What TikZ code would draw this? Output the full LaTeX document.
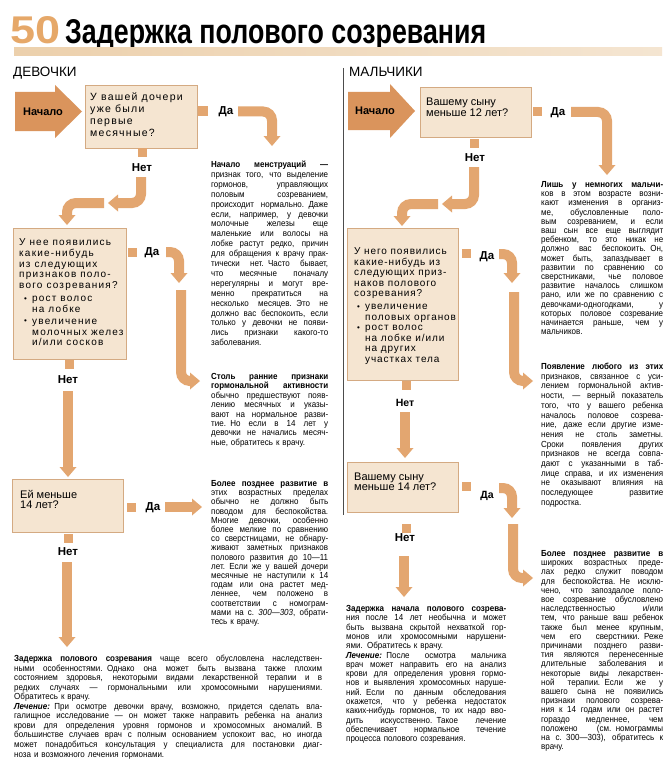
\documentclass[tikz,border=0pt]{standalone}
\usepackage{fontspec}
\setmainfont{Liberation Sans}
\newfontfamily\boxfont[LetterSpace=12]{Liberation Sans}
\newfontfamily\boxfontb[LetterSpace=9]{Liberation Sans}
\newfontfamily\bodyf[FakeStretch=0.91]{Liberation Sans}
\usetikzlibrary{calc}
\setlength{\parindent}{0pt}
\definecolor{arrowc}{RGB}{227,166,112}
\definecolor{nachc}{RGB}{218,148,92}
\definecolor{boxfill}{RGB}{245,229,209}
\definecolor{boxline}{RGB}{212,170,130}
\definecolor{titlec}{RGB}{230,168,105}
\definecolor{stripc}{RGB}{236,208,172}
\newlength\cw
\newcommand\J[1]{\leavevmode\hbox to \cw{\spaceskip=0.28em plus 3em minus 0.12em\relax #1}}
\newcommand\bul{\makebox[13pt][l]{\hspace{5pt}\raisebox{0.6pt}{\scalebox{0.8}{•}}}}
\newcommand\bulb{\makebox[11pt][l]{\hspace{3pt}\raisebox{0.6pt}{\scalebox{0.8}{•}}}}
\newcommand\headD[1]{\fill[arrowc] ($(#1)+(-8.5,-10)$) -- ($(#1)+(8.5,-10)$) -- (#1) -- cycle;}
\newcommand\headL[1]{\fill[arrowc] ($(#1)+(10,-8.5)$) -- ($(#1)+(10,8.5)$) -- (#1) -- cycle;}
\newcommand\headR[1]{\fill[arrowc] ($(#1)+(-10,-8.5)$) -- ($(#1)+(-10,8.5)$) -- (#1) -- cycle;}
\begin{document}
\begin{tikzpicture}[x=1pt,y=-1pt,
  shaft/.style={draw=arrowc, line width=10pt, rounded corners=9pt},
  stub/.style={fill=arrowc, inner sep=0pt, minimum width=9pt, minimum height=9pt},
  lbl/.style={font=\bfseries\fontsize{11.5}{12}\selectfont, inner sep=0pt},
  qbox/.style={draw=boxline, fill=boxfill, line width=0.8pt, inner sep=0pt, anchor=north west},
  qtxt/.style={anchor=north west, inner sep=0pt, align=left, font=\boxfont\fontsize{10}{10.6}\selectfont},
  qtxtb/.style={anchor=north west, inner sep=0pt, align=left, font=\fontsize{11}{10.8}\selectfont},
  ptxt/.style={anchor=north west, inner sep=0pt},
  hdr/.style={anchor=base west, inner sep=0pt, font=\fontsize{13.5}{14}\selectfont},
  start/.style={inner sep=0pt, font=\bfseries\fontsize{11}{12}\selectfont},
  sep/.style={draw=black!70, line width=0.6pt}]
\useasboundingbox (0,0) rectangle (670,773);
\fill[white] (0,0) rectangle (670,773);

% ---------- title ----------
\node[anchor=base west, inner sep=0pt, text=titlec] (num) at (10,44) {\resizebox{50pt}{27pt}{\bfseries 50}};
\node[anchor=base west, inner sep=0pt] (title) at (65,44) {\resizebox{421pt}{24pt}{\bfseries Задержка полового созревания}};
\shade[left color=stripc, right color=stripc!55!white] (14,48) rectangle (662,56);

\node[hdr] (girls) at (13,77) {ДЕВОЧКИ};
\node[hdr] (boys) at (349,77) {МАЛЬЧИКИ};
\draw[sep] (343,68) -- (343,515);

% ---------- GIRLS ----------
\fill[nachc] (15,92) -- (55,92) -- (55,85) -- (82,111.5) -- (55,138) -- (55,131) -- (15,131) -- cycle;
\node[start] (g0) at (43,112) {Начало};

\node[qbox, minimum width=112pt, minimum height=63pt] (qg1) at (85,85) {};
\node[qtxt, font=\boxfont\fontsize{10.5}{11.7}\selectfont] (qg1t) at (90,91.7) {\rule{0pt}{9pt}У вашей дочери\\уже были\\первые\\месячные?};

\node[stub, minimum width=10pt, minimum height=10pt] (g1y) at (203,111) {};
\node[lbl] (g1yl) at (226,112) {Да};
\coordinate (g1ya) at (238,111.5); \coordinate (g1yt) at (272,146);
\draw[shaft] (g1ya) -| ($(g1yt)+(0,-9)$); \headD{g1yt}

\node[stub] (g1n) at (142.5,152.5) {};
\node[lbl] (g1nl) at (142,168) {Нет};
\coordinate (g1na) at (141,177); \coordinate (g1nt) at (108,203);
\draw[shaft] (g1na) |- ($(g1nt)+(9,0)$); \headL{g1nt}
\coordinate (g1nb) at (104,203); \coordinate (g1nu) at (67,225);
\draw[shaft] (g1nb) -| ($(g1nu)+(0,-9)$); \headD{g1nu}

\node[qbox, minimum width=113pt, minimum height=131pt] (qg2) at (13,228) {};
\node[qtxt] (qg2t) at (19,236.6) {\rule{0pt}{9pt}У нее появились\\какие-нибудь\\из следующих\\признаков поло-\\вого созревания?\\[3pt]\bul рост волос\\\hspace*{13pt}на лобке\\[1.5pt]\bul увеличение\\\hspace*{13pt}молочных желез\\\hspace*{13pt}и/или сосков};

\node[stub] (g2y) at (132.5,252) {};
\node[lbl] (g2yl) at (152,253) {Да};
\coordinate (g2ya) at (166,252); \coordinate (g2yt) at (179,283);
\draw[shaft] (g2ya) -| ($(g2yt)+(0,-9)$); \headD{g2yt}
\coordinate (g2yb) at (181,290); \coordinate (g2yr) at (200,381);
\draw[shaft] (g2yb) |- ($(g2yr)+(-9,0)$); \headR{g2yr}

\node[stub] (g2n) at (69,364) {};
\node[lbl] (g2nl) at (68,380) {Нет};
\coordinate (g2na) at (68,391); \coordinate (g2nt) at (68,477);
\draw[shaft] (g2na) -- ($(g2nt)+(0,-9)$); \headD{g2nt}

\node[qbox, minimum width=111pt, minimum height=53pt] (qg3) at (12,479) {};
\node[qtxtb] (qg3t) at (20,488.4) {\rule{0pt}{9.5pt}Ей меньше\\14 лет?};

\node[stub] (g3y) at (131.5,507.5) {};
\node[lbl] (g3yl) at (153,508) {Да};
\coordinate (g3ya) at (165,507); \coordinate (g3yt) at (202,507);
\draw[shaft] (g3ya) -- ($(g3yt)+(-9,0)$); \headR{g3yt}

\node[stub] (g3n) at (68.5,538.5) {};
\node[lbl] (g3nl) at (68,552) {Нет};
\coordinate (g3na) at (67,562); \coordinate (g3nt) at (67,647);
\draw[shaft] (g3na) -- ($(g3nt)+(0,-9)$); \headD{g3nt}

% girls texts
\node[ptxt, text width=117pt, font=\bodyf\fontsize{8.8}{9.9}\selectfont] (gp1) at (211,160.3) {\setlength\cw{117pt}\rule{0pt}{7pt}%
\J{\textbf{Начало менструаций —}}\\
\J{признак того, что выделение}\\
\J{гормонов, управляющих}\\
\J{половым созреванием,}\\
\J{происходит нормально. Даже}\\
\J{если, например, у девочки}\\
\J{молочные железы еще}\\
\J{маленькие или волосы на}\\
\J{лобке растут редко, причин}\\
\J{для обращения к врачу прак-}\\
\J{тически нет. Часто бывает,}\\
\J{что месячные поначалу}\\
\J{нерегулярны и могут вре-}\\
\J{менно прекратиться на}\\
\J{несколько месяцев. Это не}\\
\J{должно вас беспокоить, если}\\
\J{только у девочки не появи-}\\
\J{лись признаки какого-то}\\
заболевания.};

\node[ptxt, text width=117pt, font=\bodyf\fontsize{8.8}{9.4}\selectfont] (gp2) at (211,372.3) {\setlength\cw{117pt}\rule{0pt}{7pt}%
\J{\textbf{Столь ранние признаки}}\\
\J{\textbf{гормональной активности}}\\
\J{обычно предшествуют появ-}\\
\J{лению месячных и указы-}\\
\J{вают на нормальное разви-}\\
\J{тие. Но если в 14 лет у}\\
\J{девочки не начались месяч-}\\
ные, обратитесь к врачу.};

\node[ptxt, text width=117pt, font=\bodyf\fontsize{8.8}{9.2}\selectfont] (gp3) at (211,479.3) {\setlength\cw{117pt}\rule{0pt}{7pt}%
\J{\textbf{Более позднее развитие в}}\\
\J{этих возрастных пределах}\\
\J{обычно не должно быть}\\
\J{поводом для беспокойства.}\\
\J{Многие девочки, особенно}\\
\J{более мелкие по сравнению}\\
\J{со сверстницами, не обнару-}\\
\J{живают заметных признаков}\\
\J{полового развития до 10—11}\\
\J{лет. Если же у вашей дочери}\\
\J{месячные не наступили к 14}\\
\J{годам или она растет мед-}\\
\J{леннее, чем положено в}\\
\J{соответствии с номограм-}\\
\J{мами на с. \textit{300—303}, обрати-}\\
тесь к врачу.};

\node[ptxt, text width=308pt, font=\bodyf\fontsize{8.8}{9.55}\selectfont] (gp4) at (14,654.3) {\setlength\cw{308pt}\rule{0pt}{7pt}%
\J{\textbf{Задержка полового созревания} чаще всего обусловлена наследствен-}\\
\J{ными особенностями. Однако она может быть вызвана также плохим}\\
\J{состоянием здоровья, некоторыми видами лекарственной терапии и в}\\
\J{редких случаях — гормональными или хромосомными нарушениями.}\\
Обратитесь к врачу.\\
\J{\textbf{\textit{Лечение:}} При осмотре девочки врачу, возможно, придется сделать вла-}\\
\J{галищное исследование — он может также направить ребенка на анализ}\\
\J{крови для определения уровня гормонов и хромосомных аномалий. В}\\
\J{большинстве случаев врач с полным основанием успокоит вас, но иногда}\\
\J{может понадобиться консультация у специалиста для постановки диаг-}\\
ноза и возможного лечения гормонами.};

% ---------- BOYS ----------
\fill[nachc] (348,92) -- (390,92) -- (390,84) -- (415,111) -- (390,138) -- (390,130) -- (348,130) -- cycle;
\node[start] (b0) at (375,111) {Начало};

\node[qbox, minimum width=111pt, minimum height=50pt] (qb1) at (420,87) {};
\node[qtxtb, font=\fontsize{11}{11}\selectfont] (qb1t) at (426,95.4) {\rule{0pt}{9.5pt}Вашему сыну\\меньше 12 лет?};

\node[stub] (b1y) at (537.5,112) {};
\node[lbl] (b1yl) at (558,113) {Да};
\coordinate (b1ya) at (571,112); \coordinate (b1yt) at (607,175);
\draw[shaft] (b1ya) -| ($(b1yt)+(0,-9)$); \headD{b1yt}

\node[stub] (b1n) at (474.5,143) {};
\node[lbl] (b1nl) at (475,158) {Нет};
\coordinate (b1na) at (474,167); \coordinate (b1nt) at (442,204);
\draw[shaft] (b1na) |- ($(b1nt)+(9,0)$); \headL{b1nt}
\coordinate (b1nb) at (438,204); \coordinate (b1nu) at (402,226);
\draw[shaft] (b1nb) -| ($(b1nu)+(0,-9)$); \headD{b1nu}

\node[qbox, minimum width=111pt, minimum height=152pt] (qb2) at (347,228) {};
\node[qtxt, font=\boxfontb\fontsize{10}{10.5}\selectfont] (qb2t) at (354,245.6) {\rule{0pt}{9pt}У него появились\\какие-нибудь из\\следующих приз-\\наков полового\\созревания?\\[2.5pt]\bulb увеличение\\\hspace*{11pt}половых органов\\\bulb рост волос\\\hspace*{11pt}на лобке и/или\\\hspace*{11pt}на других\\\hspace*{11pt}участках тела};

\node[stub] (b2y) at (466.5,253.5) {};
\node[lbl] (b2yl) at (487,257) {Да};
\coordinate (b2ya) at (499,254); \coordinate (b2yt) at (512,283);
\draw[shaft] (b2ya) -| ($(b2yt)+(0,-9)$); \headD{b2yt}
\coordinate (b2yb) at (514,292); \coordinate (b2yr) at (533,381);
\draw[shaft] (b2yb) |- ($(b2yr)+(-9,0)$); \headR{b2yr}

\node[stub] (b2n) at (406,385) {};
\node[lbl, font=\bfseries\fontsize{10.5}{11}\selectfont] (b2nl) at (405,403) {Нет};
\coordinate (b2na) at (405,412); \coordinate (b2nt) at (405,458);
\draw[shaft] (b2na) -- ($(b2nt)+(0,-9)$); \headD{b2nt}

\node[qbox, minimum width=111pt, minimum height=50pt] (qb3) at (347,462) {};
\node[qtxtb, font=\fontsize{11}{10.5}\selectfont] (qb3t) at (354,470.4) {\rule{0pt}{9.5pt}Вашему сыну\\меньше 14 лет?};

\node[stub] (b3y) at (466.5,486.5) {};
\node[lbl, font=\bfseries\fontsize{10.5}{11}\selectfont] (b3yl) at (487,496) {Да};
\coordinate (b3ya) at (499,488); \coordinate (b3yt) at (512,518);
\draw[shaft] (b3ya) -| ($(b3yt)+(0,-9)$); \headD{b3yt}
\coordinate (b3yb) at (513,524); \coordinate (b3yr) at (533,578);
\draw[shaft] (b3yb) |- ($(b3yr)+(-9,0)$); \headR{b3yr}

\node[stub] (b3n) at (406,528) {};
\node[lbl] (b3nl) at (405,538) {Нет};
\coordinate (b3na) at (404,556); \coordinate (b3nt) at (404,597);
\draw[shaft] (b3na) -- ($(b3nt)+(0,-9)$); \headD{b3nt}

% boys texts
\node[ptxt, text width=122pt, font=\bodyf\fontsize{8.8}{9.2}\selectfont] (bp1) at (541,180.3) {\setlength\cw{122pt}\rule{0pt}{7pt}%
\J{\textbf{Лишь у немногих мальчи-}}\\
\J{ков в этом возрасте возни-}\\
\J{кают изменения в организ-}\\
\J{ме, обусловленные поло-}\\
\J{вым созреванием, и если}\\
\J{ваш сын все еще выглядит}\\
\J{ребенком, то это никак не}\\
\J{должно вас беспокоить. Он,}\\
\J{может быть, запаздывает в}\\
\J{развитии по сравнению со}\\
\J{сверстниками, чье половое}\\
\J{развитие началось слишком}\\
\J{рано, или же по сравнению с}\\
\J{девочками-одногодками, у}\\
\J{которых половое созревание}\\
\J{начинается раньше, чем у}\\
мальчиков.};

\node[ptxt, text width=122pt, font=\bodyf\fontsize{8.8}{9.7}\selectfont] (bp2) at (541,362.3) {\setlength\cw{122pt}\rule{0pt}{7pt}%
\J{\textbf{Появление любого из этих}}\\
\J{признаков, связанное с уси-}\\
\J{лением гормональной актив-}\\
\J{ности, — верный показатель}\\
\J{того, что у вашего ребенка}\\
\J{началось половое созрева-}\\
\J{ние, даже если другие изме-}\\
\J{нения не столь заметны.}\\
\J{Сроки появления других}\\
\J{признаков не всегда совпа-}\\
\J{дают с указанными в таб-}\\
\J{лице справа, и их изменения}\\
\J{не оказывают влияния на}\\
\J{последующее развитие}\\
подростка.};

\node[ptxt, text width=160pt, font=\bodyf\fontsize{8.8}{9.3}\selectfont] (bp3) at (346,604.3) {\setlength\cw{160pt}\rule{0pt}{7pt}%
\J{\textbf{Задержка начала полового созрева-}}\\
\J{ния после 14 лет необычна и может}\\
\J{быть вызвана скрытой нехваткой гор-}\\
\J{монов или хромосомными нарушени-}\\
ями. Обратитесь к врачу.\\
\J{\textbf{\textit{Лечение:}} После осмотра мальчика}\\
\J{врач может направить его на анализ}\\
\J{крови для определения уровня гормо-}\\
\J{нов и выявления хромосомных наруше-}\\
\J{ний. Если по данным обследования}\\
\J{окажется, что у ребенка недостаток}\\
\J{каких-нибудь гормонов, то их надо вво-}\\
\J{дить искусственно. Такое лечение}\\
\J{обеспечивает нормальное течение}\\
процесса полового созревания.};

\node[ptxt, text width=122pt, font=\bodyf\fontsize{8.8}{9.2}\selectfont] (bp4) at (541,549.3) {\setlength\cw{122pt}\rule{0pt}{7pt}%
\J{\textbf{Более позднее развитие в}}\\
\J{широких возрастных преде-}\\
\J{лах редко служит поводом}\\
\J{для беспокойства. Не исклю-}\\
\J{чено, что запоздалое поло-}\\
\J{вое созревание обусловлено}\\
\J{наследственностью и/или}\\
\J{тем, что раньше ваш ребенок}\\
\J{также был менее крупным,}\\
\J{чем его сверстники. Реже}\\
\J{причинами позднего разви-}\\
\J{тия являются перенесенные}\\
\J{длительные заболевания и}\\
\J{некоторые виды лекарствен-}\\
\J{ной терапии. Если же у}\\
\J{вашего сына не появились}\\
\J{признаки полового созрева-}\\
\J{ния к 14 годам или он растет}\\
\J{гораздо медленнее, чем}\\
\J{положено (см. номограммы}\\
\J{на с. 300—303), обратитесь к}\\
врачу.};
\end{tikzpicture}
\end{document}
